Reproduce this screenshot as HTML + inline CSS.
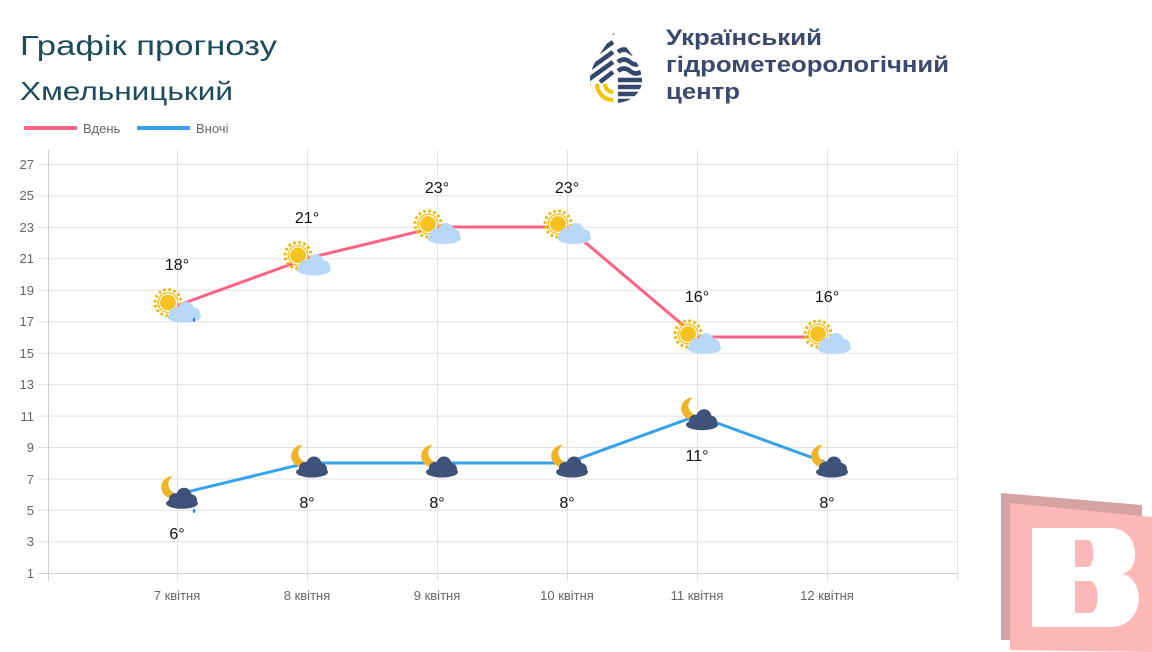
<!DOCTYPE html>
<html><head><meta charset="utf-8"><style>
html,body{margin:0;padding:0;background:#fff;}
svg{display:block;}
</style></head><body>
<svg width="1152" height="652" viewBox="0 0 1152 652" xmlns="http://www.w3.org/2000/svg" font-family="Liberation Sans, sans-serif">
<defs>
<clipPath id="drop"><path d="M615,30 C608,45 590,62 590,80 C590,94 601,103 615,103 C629,103 642,94 642,80 C642,62 622,45 615,30 Z"/></clipPath>
<symbol id="sun" overflow="visible">
  <circle cx="0" cy="0" r="13" fill="none" stroke="#f5b400" stroke-width="3" stroke-dasharray="2.5 2.6"/>
  <circle cx="0" cy="0" r="10.5" fill="#f7c21d"/>
  <circle cx="0" cy="0" r="8.5" fill="none" stroke="#fff" stroke-width="1.2"/>
</symbol>
<symbol id="cloud" overflow="visible">
  <g fill="#b8d8fa">
    <ellipse cx="0" cy="3" rx="17" ry="6"/>
    <circle cx="-8" cy="-1" r="6"/>
    <circle cx="2" cy="-4" r="8"/>
    <circle cx="10" cy="0" r="6"/>
  </g>
</symbol>
<symbol id="dcloud" overflow="visible">
  <g fill="#3f5279">
    <ellipse cx="0" cy="3" rx="16" ry="5.5"/>
    <circle cx="-7" cy="-1" r="6"/>
    <circle cx="2" cy="-5" r="7.5"/>
    <circle cx="9" cy="0" r="6"/>
  </g>
</symbol>
<symbol id="moon" overflow="visible">
  <path d="M2,-11 A11,11 0 1,0 11,5 A9,9 0 0,1 2,-11 Z" fill="#f0b428"/>
</symbol>
<symbol id="day" overflow="visible">
  <use href="#sun" x="-9" y="-3"/>
  <use href="#cloud" x="7" y="8"/>
</symbol>
<symbol id="night" overflow="visible">
  <use href="#moon" x="-6" y="-7"/>
  <use href="#dcloud" x="5" y="6"/>
</symbol>
</defs>

<text x="20" y="55" font-size="28" fill="#1c4a5e" textLength="257" lengthAdjust="spacingAndGlyphs">Графік прогнозу</text>
<text x="20" y="100" font-size="26" fill="#1c4a5e" textLength="213" lengthAdjust="spacingAndGlyphs">Хмельницький</text>

<!-- logo -->
<g clip-path="url(#drop)">
  <g stroke="#34476a" stroke-width="4.5">
    <line x1="585" y1="52" x2="613" y2="32"/>
    <line x1="585" y1="62" x2="613" y2="42"/>
    <line x1="585" y1="72" x2="613" y2="52"/>
    <line x1="585" y1="82" x2="613" y2="62"/>
    <line x1="600" y1="82" x2="613" y2="72"/>
    <path d="M618,52 q6,-5 12,0 t12,0" fill="none"/>
    <path d="M618,62 q6,-5 12,0 t12,0" fill="none"/>
    <path d="M618,71 q6,-5 12,0 t12,0" fill="none"/>
    <line x1="618" y1="80" x2="645" y2="80"/>
    <line x1="618" y1="87" x2="645" y2="87"/>
    <line x1="618" y1="94" x2="645" y2="94"/>
    <line x1="618" y1="101" x2="645" y2="101"/>
  </g>
  <g fill="none" stroke="#f5c400" stroke-width="4">
    <path d="M589,84 A24,24 0 0,0 613,108"/>
    <path d="M597,84 A16,16 0 0,0 613,100"/>
    <path d="M605,84 A8,8 0 0,0 613,92"/>
  </g>
</g>
<g font-size="22" font-weight="bold" fill="#3a4a6e">
  <text x="666" y="45" textLength="156" lengthAdjust="spacingAndGlyphs">Український</text>
  <text x="666" y="72" textLength="283" lengthAdjust="spacingAndGlyphs">гідрометеорологічний</text>
  <text x="666" y="99" textLength="74" lengthAdjust="spacingAndGlyphs">центр</text>
</g>

<!-- legend -->
<rect x="24" y="126" width="53" height="4" fill="#ff6384"/>
<text x="83" y="133" font-size="13" fill="#666">Вдень</text>
<rect x="137" y="126" width="53" height="4" fill="#36a2eb"/>
<text x="196" y="133" font-size="13" fill="#666">Вночі</text>

<!-- grid -->
<g stroke="#e2e2e2" stroke-width="1">
  <line x1="38" y1="164.5" x2="957" y2="164.5"/>
  <line x1="38" y1="195.9" x2="957" y2="195.9"/>
  <line x1="38" y1="227.4" x2="957" y2="227.4"/>
  <line x1="38" y1="258.8" x2="957" y2="258.8"/>
  <line x1="38" y1="290.3" x2="957" y2="290.3"/>
  <line x1="38" y1="321.7" x2="957" y2="321.7"/>
  <line x1="38" y1="353.2" x2="957" y2="353.2"/>
  <line x1="38" y1="384.6" x2="957" y2="384.6"/>
  <line x1="38" y1="416.1" x2="957" y2="416.1"/>
  <line x1="38" y1="447.5" x2="957" y2="447.5"/>
  <line x1="38" y1="479.0" x2="957" y2="479.0"/>
  <line x1="38" y1="510.4" x2="957" y2="510.4"/>
  <line x1="38" y1="541.9" x2="957" y2="541.9"/>
  <line x1="177.5" y1="150" x2="177.5" y2="581"/>
  <line x1="307.5" y1="150" x2="307.5" y2="581"/>
  <line x1="437.5" y1="150" x2="437.5" y2="581"/>
  <line x1="567.5" y1="150" x2="567.5" y2="581"/>
  <line x1="697.5" y1="150" x2="697.5" y2="581"/>
  <line x1="827.5" y1="150" x2="827.5" y2="581"/>
  <line x1="957.5" y1="150" x2="957.5" y2="581"/>
</g>
<g stroke="#cfcfcf">
  <line x1="48.5" y1="150" x2="48.5" y2="581"/>
  <line x1="38" y1="573.5" x2="957" y2="573.5"/>
</g>
<g font-size="13" fill="#666" text-anchor="end">
  <text x="34" y="169">27</text><text x="34" y="200">25</text><text x="34" y="232">23</text>
  <text x="34" y="263">21</text><text x="34" y="295">19</text><text x="34" y="326">17</text>
  <text x="34" y="358">15</text><text x="34" y="389">13</text><text x="34" y="421">11</text>
  <text x="34" y="452">9</text><text x="34" y="484">7</text><text x="34" y="515">5</text>
  <text x="34" y="546">3</text><text x="34" y="578">1</text>
</g>
<g font-size="13" fill="#666" text-anchor="middle">
  <text x="177" y="600">7 квітня</text><text x="307" y="600">8 квітня</text>
  <text x="437" y="600">9 квітня</text><text x="567" y="600">10 квітня</text>
  <text x="697" y="600">11 квітня</text><text x="827" y="600">12 квітня</text>
</g>

<polyline points="177,305.6 307,258.4 437,227 567,227 697,337 827,337" fill="none" stroke="#ff6384" stroke-width="3"/>
<polyline points="177,494.3 307,463 437,463 567,463 697,415.7 827,463" fill="none" stroke="#36a2eb" stroke-width="3"/>

<use href="#day" x="177" y="305.6"/>
<use href="#day" x="307" y="258.4"/>
<use href="#day" x="437" y="227"/>
<use href="#day" x="567" y="227"/>
<use href="#day" x="697" y="337"/>
<use href="#day" x="827" y="337"/>
<path d="M194,317 q-2.5,4 0,5 q2.5,-1 0,-5z" fill="#1e88e5"/>
<use href="#night" x="177" y="494.3"/>
<use href="#night" x="307" y="463"/>
<use href="#night" x="437" y="463"/>
<use href="#night" x="567" y="463"/>
<use href="#night" x="697" y="415.7"/>
<use href="#night" x="827" y="463"/>
<path d="M194,508 q-2.5,4 0,5 q2.5,-1 0,-5z" fill="#1e88e5"/>

<g font-size="16" fill="#111" text-anchor="middle">
  <text x="177" y="270">18°</text><text x="307" y="223">21°</text>
  <text x="437" y="193">23°</text><text x="567" y="193">23°</text>
  <text x="697" y="302">16°</text><text x="827" y="302">16°</text>
  <text x="177" y="539">6°</text><text x="307" y="508">8°</text>
  <text x="437" y="508">8°</text><text x="567" y="508">8°</text>
  <text x="697" y="461">11°</text><text x="827" y="508">8°</text>
</g>

<!-- watermark -->
<polygon points="1001,493 1142,505 1142,640 1001,640" fill="#d6a3a3"/>
<polygon points="1010,503 1152,517 1152,652 1010,650" fill="#ffb8b8"/>
<path d="M1032,528 L1110,528 C1140,528 1142,570 1122,574 C1146,578 1146,627 1110,627 L1032,627 Z M1075,540 L1075,567 L1088,567 C1095,567 1095,540 1088,540 Z M1075,581 L1075,613 L1090,613 C1100,613 1100,581 1090,581 Z" fill="#fff" fill-rule="evenodd"/>
</svg>
</body></html>
